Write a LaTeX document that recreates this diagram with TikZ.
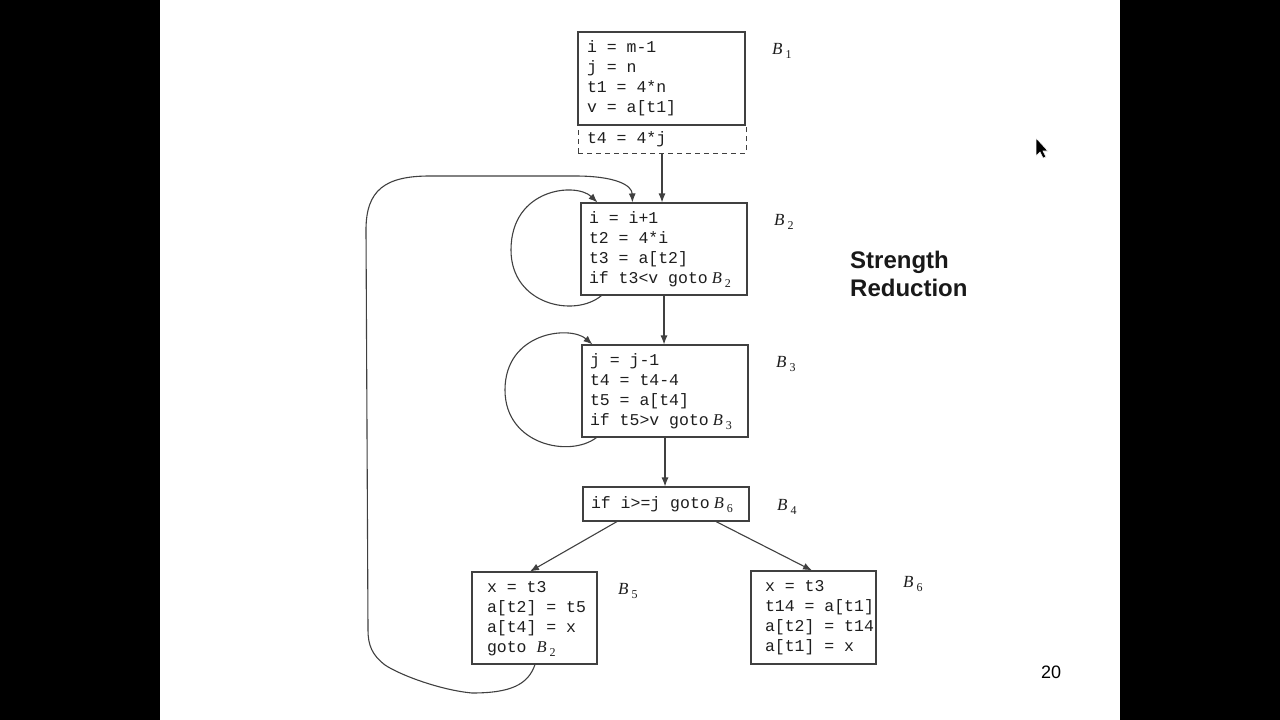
\documentclass[tikz,border=0pt]{standalone}
\usepackage{fontspec}
\setmainfont{Liberation Sans}
\newfontfamily\codefont{Liberation Mono}
\newfontfamily\labfont{Liberation Serif}
\usetikzlibrary{arrows.meta}
\definecolor{boxline}{HTML}{404040}
\definecolor{codecol}{HTML}{1E1E1E}
\newcommand\Bsub[1]{{\labfont\itshape B\hspace{3pt}\raisebox{-4.5pt}{\fontsize{12}{12}\selectfont\upshape #1}}}
\newcommand\codelines[2]{\makebox[#1][l]{\raisebox{-2pt}{\begin{tabular}{@{}l@{}}#2\end{tabular}}}}
\begin{document}
\begin{tikzpicture}[x=1pt,y=-1pt,
  blk/.style={draw=boxline, line width=1.1pt, rectangle,
    font=\codefont\fontsize{16.5}{20}\selectfont, text=codecol,
    inner ysep=0pt, anchor=center},
  blab/.style={anchor=base west, inner sep=0pt, text=codecol,
    font=\labfont\fontsize{17}{17}\selectfont},
  arr/.style={draw=boxline, line width=1.1pt, -{Latex[length=9pt,width=7pt]}},
]
% background
\fill[black] (0,0) rectangle (1280,720);
\fill[white] (160,0) rectangle (1120,720);
\useasboundingbox (0,0) rectangle (1280,720);

% dashed extension of B1
\node[blk, dashed, dash pattern=on 5pt off 4pt, line width=1pt, inner xsep=9pt, minimum height=28pt] (D) at (662,139)
  {\codelines{150pt}{t4 = 4*j}};
% blocks
\node[blk, inner xsep=9pt, minimum height=93pt] (B1) at (661.5,78.5)
  {\codelines{149pt}{i = m-1\\ j = n\\ t1 = 4*n\\ v = a[t1]}};
\node[blk, inner xsep=8pt, minimum height=92pt] (B2) at (664,249)
  {\codelines{150pt}{i = i+1\\ t2 = 4*i\\ t3 = a[t2]\\ if t3<v goto\hspace{4pt}\Bsub{2}}};
\node[blk, inner xsep=8pt, minimum height=92pt] (B3) at (665,391)
  {\codelines{150pt}{j = j-1\\ t4 = t4-4\\ t5 = a[t4]\\ if t5>v goto\hspace{4pt}\Bsub{3}}};
\node[blk, inner xsep=8pt, minimum height=34pt] (B4) at (666,504)
  {\codelines{150pt}{if i>=j goto\hspace{4pt}\Bsub{6}}};
\node[blk, inner xsep=15pt, minimum height=92pt] (B5) at (534.5,618)
  {\codelines{95pt}{x = t3\\ a[t2] = t5\\ a[t4] = x\\ goto \Bsub{2}}};
\node[blk, inner xsep=14pt, minimum height=93pt] (B6) at (813.5,617.5)
  {\codelines{97pt}{x = t3\\ t14 = a[t1]\\ a[t2] = t14\\ a[t1] = x}};

% block labels
\node[blab] (L1) at (772,54) {\Bsub{1}};
\node[blab] (L2) at (774,225) {\Bsub{2}};
\node[blab] (L3) at (776,367) {\Bsub{3}};
\node[blab] (L4) at (777,510) {\Bsub{4}};
\node[blab] (L5) at (618,594) {\Bsub{5}};
\node[blab] (L6) at (903,587) {\Bsub{6}};

% straight edges
\draw[arr] (D.south) -- (D.south |- B2.north);
\draw[arr] (B2.south) -- (B2.south |- B3.north);
\draw[arr] (B3.south) -- (B3.south |- B4.north);
\draw[arr] ([xshift=-49pt]B4.south) -- ([xshift=-4.5pt]B5.north);
\draw[arr] ([xshift=50pt]B4.south) -- ([xshift=-1.5pt]B6.north);

% self loops
\draw[arr] ([xshift=21pt]B2.south west) .. controls (575,318) and (511,305) .. (511,250)
  .. controls (511,188) and (576,182) .. ([xshift=17pt]B2.north west);
\draw[arr] ([xshift=15pt]B3.south west) .. controls (570,458) and (505,445) .. (505,390)
  .. controls (505,332) and (570,325) .. ([xshift=11pt]B3.north west);

% back edge B5 -> B2
\draw[arr] ([xshift=0.5pt]B5.south) .. controls (528,685) and (510,693) .. (472,693)
  .. controls (440,690) and (400,675) .. (385,665)
  .. controls (372,655) and (368,645) .. (368,630)
  -- (366,230) .. controls (366,190) and (385,176) .. (430,176)
  -- (575,176) .. controls (615,176) and (632,185) .. ([xshift=52pt]B2.north west);

% title text
\node[anchor=base west, align=left, inner sep=0pt, text=black!90,
  font=\bfseries\fontsize{24}{28}\selectfont] (SR) at (850,296) {Strength\\Reduction};
\node[inner sep=0pt, font=\fontsize{18}{18}\selectfont] (PG) at (1051,672) {20};

% mouse pointer
\filldraw[fill=black, draw=white, line width=0.6pt] (1036,138) -- (1036,156) -- (1040,152)
  -- (1043,158) -- (1046,157) -- (1043,151) -- (1048,151) -- cycle;
\end{tikzpicture}
\end{document}
